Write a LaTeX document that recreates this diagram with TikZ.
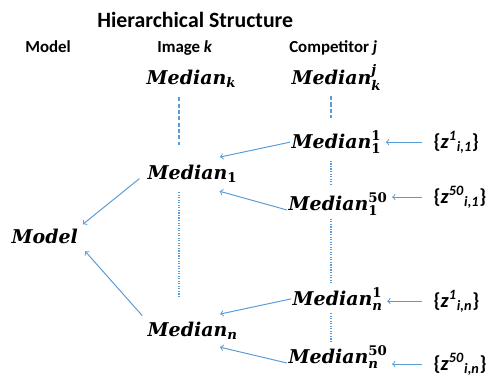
\documentclass[tikz,border=0pt]{standalone}
\usepackage[no-math]{fontspec}
\setmainfont{Carlito}
\newfontfamily\medfont{DejaVu Serif}
\usepackage{amsmath,amssymb}
\usepackage{tikz}
\usetikzlibrary{calc}
\usetikzlibrary{arrows}

\definecolor{lineblue}{RGB}{91,155,213}
\newcommand{\Med}{\medfont\bfseries\itshape Median}
\newcommand{\up}[1]{\text{\upshape #1}}

\begin{document}
\begin{tikzpicture}[x=0.025cm,y=-0.025cm,
  med/.style={anchor=base west,inner sep=1pt,font=\fontsize{13.5}{16}\selectfont},
  head/.style={anchor=base west,inner sep=0pt,font=\fontsize{12}{14}\selectfont\bfseries},
  obs/.style={anchor=base west,inner sep=1pt,font=\fontsize{14.5}{16}\selectfont\bfseries},
  link/.style={->,draw=lineblue,line width=0.7pt},
  gap/.style={draw=lineblue,line width=0.8pt,dash pattern=on 3pt off 1.5pt},
  dots/.style={draw=lineblue,line width=0.8pt,dash pattern=on 0.8pt off 1pt}]
  \useasboundingbox (0,0) rectangle (491,375);

  % headings
  \node [anchor=base west,inner sep=0pt,font=\fontsize{15.5}{18}\selectfont\bfseries] (title) at (97,27) {Hierarchical Structure};
  \node [head] (hmodel) at (25,52) {Model};
  \node [head] (himage) at (157,52) {Image \textit{k}};
  \node [head] (hcomp) at (289,52) {Competitor \textit{j}};

  % medians
  \node [med] (model) at (10,243) {\medfont\bfseries\itshape Model};
  \node [med] (medk) at (145,84) {\Med$_{\text{k}}$};
  \node [med] (med1) at (146,179) {\Med$_{\up{1}}$};
  \node [med] (medn) at (146,336) {\Med$_{\text{n}}$};
  \node [med] (medkj) at (290,84) {\Med$_{\text{k}}^{\text{j}}$};
  \node [med] (med11) at (290,148) {\Med$_{\up{1}}^{\up{1}}$};
  \node [med] (med150) at (287,210) {\Med$_{\up{1}}^{\up{50}}$};
  \node [med] (medn1) at (291,305) {\Med$_{\text{n}}^{\up{1}}$};
  \node [med] (medn50) at (287,363) {\Med$_{\text{n}}^{\up{50}}$};

  % observations
  \node [obs] (z11) at (432,148) {\{\textit{z}\textsuperscript{\textit{1}}\textsubscript{\textit{i,1}}\}};
  \node [obs] (z150) at (432,203) {\{\textit{z}\textsuperscript{\textit{50}}\textsubscript{\textit{i,1}}\}};
  \node [obs] (zn1) at (432,307) {\{\textit{z}\textsuperscript{\textit{1}}\textsubscript{\textit{i,n}}\}};
  \node [obs] (zn50) at (432,370) {\{\textit{z}\textsuperscript{\textit{50}}\textsubscript{\textit{i,n}}\}};

  \coordinate (colA) at (179,0);
  \coordinate (colB) at (331,0);

  % vertical gaps
  \draw [gap,shorten <=6pt,shorten >=13pt] (medk.south -| colA) -- (med1.north -| colA);
  \draw [dots,shorten <=6pt,shorten >=16pt] (med1.south -| colA) -- (medn.north -| colA);
  \draw [gap,shorten <=3pt,shorten >=8pt] (medkj.south -| colB) -- (med11.north -| colB);
  \draw [dots,shorten <=4pt,shorten >=5pt] (med11.south -| colB) -- (med150.north -| colB);
  \draw [dots,shorten <=1pt,shorten >=2pt] (med150.south -| colB) -- (medn1.north -| colB);
  \draw [dots,shorten <=1pt,shorten >=1pt] (medn1.south -| colB) -- (medn50.north -| colB);

  % arrows
  \draw [link,shorten <=7pt,shorten >=2pt] (z11.west) -- (z11.west -| med11.east);
  \draw [link,shorten <=7pt,shorten >=2pt] (z150.west) -- (z150.west -| med150.east);
  \draw [link,shorten <=7pt,shorten >=2pt] (zn1.west) -- (zn1.west -| medn1.east);
  \draw [link,shorten <=7pt,shorten >=2pt] (zn50.west) -- (zn50.west -| medn50.east);
  \draw [link,shorten >=20pt] (med11.west) -- (med1.north);
  \draw [link,shorten >=20pt] (med150.base west) -- (med1.south);
  \draw [link,shorten >=20pt] (medn1.west) -- (medn.north);
  \draw [link,shorten >=20pt] (medn50.base west) -- (medn.south);
  \draw [link,shorten <=6pt,shorten >=3pt] (med1.west) -- (model.north east);
  \draw [link,shorten <=4pt,shorten >=6pt] (medn.north west) -- (model.south east);
\end{tikzpicture}
\end{document}
